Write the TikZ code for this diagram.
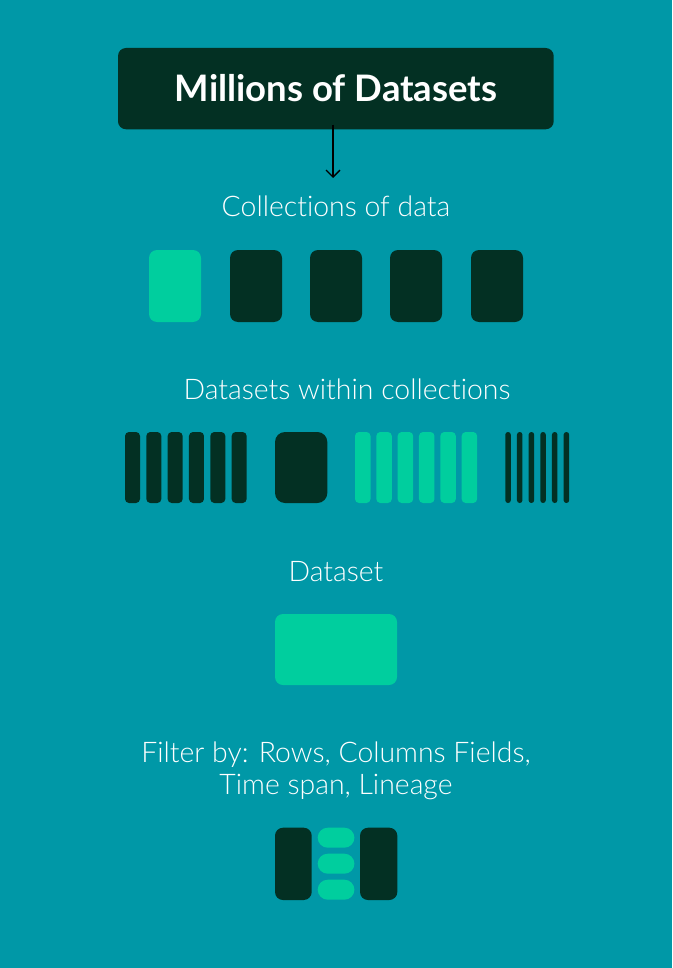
\documentclass[tikz,border=0pt]{standalone}
\usepackage{fontspec}
\setmainfont{Lato}[UprightFont=* Light, BoldFont=* Bold, Ligatures=NoCommon]
\usetikzlibrary{arrows.meta,calc}
\definecolor{bgc}{RGB}{0,152,167}
\definecolor{dkc}{RGB}{3,48,35}
\definecolor{grc}{RGB}{0,206,158}
\begin{document}
\begin{tikzpicture}[x=1pt,y=-1pt,
  blk/.style={rounded corners=#1, inner sep=0pt, outer sep=0pt, anchor=north west, draw=none},
  blk/.default=8pt,
  dk/.style={blk=#1, fill=dkc}, dk/.default=8pt,
  gr/.style={blk=#1, fill=grc}, gr/.default=8pt,
  lbl/.style={text=white, font=\fontsize{28.4}{33}\selectfont, anchor=base, inner sep=0pt},
  conn/.style={draw=black, line width=1.3pt, -{Straight Barb[length=7pt,width=14pt]}}
 ]
\useasboundingbox (0,0) rectangle (672,968);
\fill[bgc] (0,0) rectangle (672,968);
% header
\node[dk, minimum width=435.7pt, minimum height=81.3pt] (head) at (118,48) {};
\node[text=white, font=\bfseries\fontsize{36.5}{42}\selectfont, anchor=base, inner sep=0pt] (headtxt) at (336,101.7) {Millions of Datasets};
\coordinate (astart) at (333,125);
\coordinate (aend) at (333,178);
\draw[conn] (astart) -- (aend);
% collections
\node[lbl] (t1) at (336,217) {Collections of data};
\node[gr, minimum width=52pt, minimum height=72pt] (c1) at (149,250) {};
\foreach \x/\n in {230/c2, 310/c3, 390/c4, 471/c5}
  \node[dk, minimum width=52pt, minimum height=72pt] (\n) at (\x,250) {};
% datasets within collections
\node[lbl] (t2) at (347,399) {Datasets within collections};
\foreach \i in {0,...,5}
  \node[dk=4pt, minimum width=15pt, minimum height=71pt] (a\i) at (125+21.33*\i,432) {};
\node[dk=10pt, minimum width=52.3pt, minimum height=71pt] (sq) at (275,432) {};
\foreach \i in {0,...,5}
  \node[gr=4pt, minimum width=15.5pt, minimum height=71pt] (g\i) at (355+21.33*\i,432) {};
\foreach \i in {0,...,5}
  \node[dk=2.7pt, minimum width=5.5pt, minimum height=71pt] (n\i) at (505.3+11.67*\i,432) {};
% dataset
\node[lbl] (t3) at (336,581) {Dataset};
\node[gr, minimum width=122pt, minimum height=71pt] (ds) at (275,614) {};
% filter
\node[lbl] (t4) at (336,762) {Filter by: Rows, Columns Fields,};
\node[lbl] (t5) at (336,794.5) {Time span, Lineage};
\node[dk, minimum width=36.7pt, minimum height=72.3pt] (fl) at (275,827.7) {};
\node[dk, minimum width=37.3pt, minimum height=72.3pt] (fr) at (360,827.7) {};
\node[gr=10pt, minimum width=36.7pt, minimum height=20pt] (p1) at (317.7,827.7) {};
\node[gr=10pt, minimum width=36.7pt, minimum height=20pt] (p2) at (317.7,853.7) {};
\node[gr=10pt, minimum width=36.7pt, minimum height=20pt] (p3) at (317.7,879.7) {};
\end{tikzpicture}
\end{document}
